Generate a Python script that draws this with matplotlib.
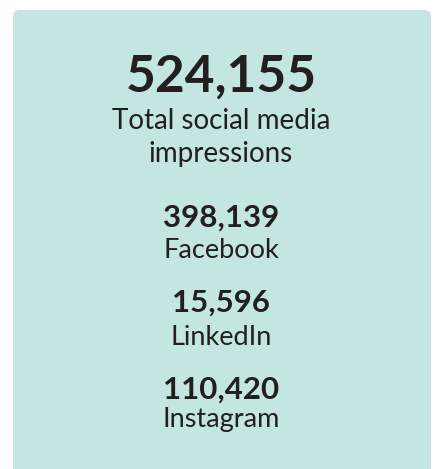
"""Social media impressions summary card."""

import matplotlib

matplotlib.use("Agg")
import matplotlib.pyplot as plt
from matplotlib.patches import FancyBboxPatch

TOTAL_IMPRESSIONS = 524155
TOTAL_LABEL = ["Total social media", "impressions"]
PLATFORMS = ["Facebook", "LinkedIn", "Instagram"]
IMPRESSIONS = [398139, 15596, 110420]

CARD_COLOR = "#c3e6e2"
TEXT_COLOR = "#231f20"
WIDTH, HEIGHT = 434, 469

plt.rcParams["font.family"] = ["Lato", "DejaVu Sans"]

fig = plt.figure(figsize=(WIDTH / 100, HEIGHT / 100), dpi=100)
ax = fig.add_axes([0, 0, 1, 1])
ax.set_xlim(0, WIDTH)
ax.set_ylim(HEIGHT, 0)
ax.axis("off")

card = FancyBboxPatch(
    (13, 10), 418, HEIGHT + 20,
    boxstyle="round,pad=0,rounding_size=7",
    facecolor=CARD_COLOR, edgecolor="none",
)
ax.add_patch(card)

cx = 221
ax.text(cx, 92, f"{TOTAL_IMPRESSIONS:,}", ha="center", va="baseline",
        fontsize=37, fontweight="bold", color=TEXT_COLOR)
for line, y in zip(TOTAL_LABEL, [129, 162]):
    ax.text(cx, y, line, ha="center", va="baseline", fontsize=20,
            color=TEXT_COLOR)

# baselines of each platform's number and name
value_base = [227, 312, 399]
name_base = [258, 345, 427]
for name, value, yv, yn in zip(PLATFORMS, IMPRESSIONS, value_base, name_base):
    ax.text(cx, yv, f"{value:,}", ha="center", va="baseline",
            fontsize=22.5, fontweight="bold", color=TEXT_COLOR)
    ax.text(cx, yn, name, ha="center", va="baseline",
            fontsize=19.5, color=TEXT_COLOR)

fig.savefig("out.png", dpi=100)
plt.close(fig)
